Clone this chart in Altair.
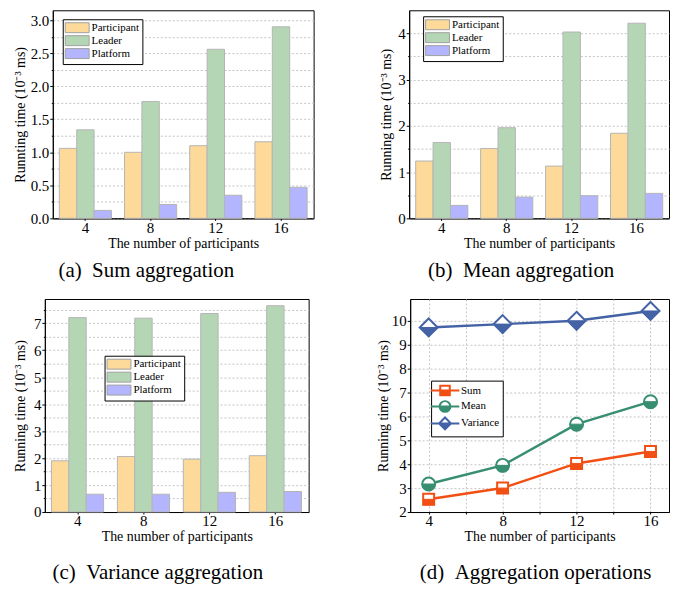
import altair as alt
import pandas as pd

# ---------------- data ----------------
groups = ["4", "8", "12", "16"]
roles = ["Participant", "Leader", "Platform"]
role_colors = ["#FDD99A", "#B5D6B5", "#B3B5FE"]

sum_participant = [1.06, 1.00, 1.10, 1.16]
sum_leader = [1.34, 1.77, 2.56, 2.90]
sum_platform = [0.12, 0.21, 0.35, 0.47]

mean_participant = [1.24, 1.51, 1.13, 1.84]
mean_leader = [1.64, 1.96, 4.03, 4.22]
mean_platform = [0.28, 0.46, 0.49, 0.54]

var_participant = [1.90, 2.06, 1.96, 2.09]
var_leader = [7.21, 7.19, 7.36, 7.65]
var_platform = [0.66, 0.66, 0.73, 0.76]

n_participants = [4, 8, 12, 16]
ops = ["Sum", "Mean", "Variance"]
op_colors = ["#F24F14", "#388E70", "#4462A6"]
op_sum = [2.53, 3.00, 4.03, 4.53]
op_mean = [3.17, 3.95, 5.67, 6.61]
op_variance = [9.71, 9.85, 9.99, 10.40]

FONT = "Liberation Serif"
XTITLE = "The number of participants"
GRID_DASH = [2, 2]
GRID_COLOR = "#c4c4c4"
CAP_SIZE = 21


def frange(start, stop, step):
    vals = []
    k = 0
    while start + k * step < stop - 1e-6:
        vals.append(round(start + k * step, 6))
        k += 1
    return vals


def is_major(major):
    return f"abs(datum.value/{major} - round(datum.value/{major})) < 1e-6"


def caption_title(text, dx, offset):
    return alt.TitleParams(text, orient="bottom", font=FONT, fontSize=CAP_SIZE,
                           fontWeight="normal", color="black", offset=offset,
                           anchor="middle", dx=dx)


def bar_panel(p, l, pl, ymax, minor, major, fmt, ytitle, lx, ly, caption,
              cap_dx, cap_off, width, height, extent):
    df = pd.DataFrame({
        "n": groups * 3,
        "role": [r for r in roles for _ in groups],
        "value": p + l + pl,
    })
    ticks = frange(0, ymax, minor)
    test = is_major(major)
    legend = alt.Legend(
        title=None, orient="none", legendX=lx, legendY=ly,
        symbolType="M-3,-1.25H3V1.25H-3Z", symbolSize=64,
        symbolStrokeColor="#a0a0a0", symbolStrokeWidth=1,
        symbolOffset=6, labelOffset=9, padding=3, rowPadding=-2,
        strokeColor="black", fillColor="white",
        labelFont=FONT, labelFontSize=11, labelColor="black",
    )
    return alt.Chart(df).mark_bar(stroke="#b4b4b4", strokeWidth=1).encode(
        x=alt.X("n:N", sort=groups,
                scale=alt.Scale(paddingInner=0.2, paddingOuter=0.1),
                axis=alt.Axis(title=XTITLE, labelAngle=0, grid=False,
                              tickSize=2, labelPadding=0, titlePadding=1)),
        xOffset=alt.XOffset("role:N", sort=roles,
                            scale=alt.Scale(paddingInner=0)),
        y=alt.Y("value:Q",
                scale=alt.Scale(domain=[0, ymax], nice=False, zero=True),
                axis=alt.Axis(
                    title=ytitle, values=ticks,
                    labelExpr=f"{test} ? format(datum.value, '{fmt}') : ''",
                    tickSize={"condition": {"test": test, "value": 3}, "value": 1.5},
                    grid=True, gridDash=GRID_DASH, gridColor=GRID_COLOR,
                    labelPadding=1, titlePadding=2,
                    minExtent=extent, maxExtent=extent)),
        color=alt.Color("role:N", sort=roles,
                        scale=alt.Scale(domain=roles, range=role_colors),
                        legend=legend),
    ).properties(width=width, height=height,
                 title=caption_title(caption, cap_dx, cap_off))


panel_a = bar_panel(sum_participant, sum_leader, sum_platform, 3.15, 0.25, 0.5,
                    ".1f", "Runnting time (10⁻³ ms)", 10, 9,
                    "(a)\u2002Sum aggregation", -37, 10, 262, 209, 23)
panel_b = bar_panel(mean_participant, mean_leader, mean_platform, 4.5, 0.5, 1,
                    "d", "Running time (10⁻³ ms)", 14, 6,
                    "(b)\u2002Mean aggregation", -18, 10, 261, 209, 14)
panel_c = bar_panel(var_participant, var_leader, var_platform, 7.9, 0.5, 1,
                    "d", "Running time (10⁻³ ms)", 60, 57,
                    "(c)\u2002Variance aggregation", -19, 18, 265, 214, 15)

# ---------------- panel d ----------------
ddf = pd.DataFrame({
    "n": n_participants * 3,
    "op": [o for o in ops for _ in n_participants],
    "value": op_sum + op_mean + op_variance,
})
base = alt.Chart(ddf)
xd = alt.X("n:Q", scale=alt.Scale(domain=[3, 17], nice=False, zero=False),
           axis=alt.Axis(title=XTITLE, values=[4, 6, 8, 10, 12, 14, 16],
                         labelExpr="datum.value % 4 == 0 ? datum.label : ''",
                         tickSize=2, grid=True, gridDash=GRID_DASH,
                         gridColor=GRID_COLOR, labelPadding=0, titlePadding=1))
yd = alt.Y("value:Q", scale=alt.Scale(domain=[2, 10.9], nice=False, zero=False),
           axis=alt.Axis(title="Running time (10⁻³ ms)", values=list(range(2, 11)),
                         tickSize=3, grid=True, gridDash=GRID_DASH,
                         gridColor=GRID_COLOR, labelPadding=1, titlePadding=2,
                         minExtent=18, maxExtent=18))

lines = base.mark_line(strokeWidth=2.5).encode(
    x=xd, y=yd,
    color=alt.Color("op:N", scale=alt.Scale(domain=ops, range=op_colors), legend=None),
)

full_shapes = ["M-1,-1H1V1H-1Z",
               "M-1,0A1,1 0 1 1 1,0A1,1 0 1 1 -1,0Z",
               "M0,-1L1,0L0,1L-1,0Z"]
half_shapes = ["M-1,0H1V1H-1Z",
               "M-1,0A1,1 0 0 0 1,0Z",
               "M-1,0L1,0L0,1Z"]
marker_sizes = [121, 169, 324]

point_layers = []
for op, col, fs, hs, sz in zip(ops, op_colors, full_shapes, half_shapes, marker_sizes):
    sub = base.transform_filter(alt.datum.op == op)
    point_layers.append(sub.mark_point(shape=fs, filled=True, fill="white", stroke=col,
                                       strokeWidth=2, size=sz, opacity=1).encode(x=xd, y=yd))
    point_layers.append(sub.mark_point(shape=hs, filled=True, fill=col, stroke=col,
                                       strokeWidth=1, size=sz, opacity=1).encode(x=xd, y=yd))

legend_paths = [
    "M-2.4,0H-0.8M0.8,0H2.4M-0.8,0V-0.8H0.8V0V-0.8H-0.8V0M-0.8,0H0.8V0.8H-0.8Z",
    "M-2.4,0H-0.9M0.9,0H2.4M-0.9,0A0.9,0.9 0 0 1 0.9,0A0.9,0.9 0 0 0 -0.9,0M-0.9,0A0.9,0.9 0 0 0 0.9,0Z",
    "M-2.4,0H-1M1,0H2.4M-1,0L0,-1L1,0L0,-1L-1,0M-1,0L1,0L0,1Z",
]
# this legend is lifted to the top-level group
leg_d = alt.Legend(
    title=None, orient="none", legendX=424, legendY=372,
    symbolSize=144, symbolStrokeWidth=2, symbolOffset=4, labelOffset=9,
    symbolOpacity=1, padding=3, rowPadding=-4, strokeColor="black", fillColor="white",
    labelFont=FONT, labelFontSize=11, labelColor="black",
)
legend_layer = base.mark_point(
    filled=True, opacity=0, strokeWidth=2, size=144
).encode(
    x=xd, y=yd,
    fill=alt.Fill("op:N", scale=alt.Scale(domain=ops, range=op_colors), legend=leg_d),
    stroke=alt.Stroke("op:N", scale=alt.Scale(domain=ops, range=op_colors), legend=leg_d),
    shape=alt.Shape("op:N", scale=alt.Scale(domain=ops, range=legend_paths), legend=leg_d),
)

panel_d = alt.layer(lines, *point_layers, legend_layer).properties(
    width=260, height=214,
    title=caption_title("(d)\u2002Aggregation operations", -4, 18),
)


def spacer():
    # tiny invisible view that anchors each row, so rows align by their left bounds
    return alt.Chart(pd.DataFrame({"s": [0]})).mark_point(opacity=0, size=0).encode(
        x=alt.value(0), y=alt.value(0)
    ).properties(width=1, height=1, view=alt.ViewBackground(stroke="transparent"))


inner1 = alt.hconcat(panel_a, panel_b, spacing=64).resolve_scale(
    color="independent").resolve_legend(color="independent")
inner2 = alt.hconcat(panel_c, panel_d, spacing=66).resolve_scale(
    color="independent").resolve_legend(color="independent")
row1 = alt.hconcat(spacer(), inner1, spacing=2).resolve_scale(
    color="independent").resolve_legend(color="independent")
row2 = alt.hconcat(spacer(), inner2, spacing=2).resolve_scale(
    color="independent").resolve_legend(color="independent")

chart = alt.vconcat(row1, row2, spacing=15).resolve_scale(
    color="independent").resolve_legend(color="independent").properties(
    padding={"left": 0, "top": 0, "right": 0, "bottom": 0}
).configure(
    font=FONT
).configure_view(
    stroke="black", strokeWidth=1
).configure_axis(
    labelFont=FONT, titleFont=FONT, labelFontSize=15, titleFontSize=14,
    titleFontWeight="normal", labelColor="black", titleColor="black",
    domainColor="black", tickColor="black", domainWidth=1, tickWidth=1,
).configure_legend(labelFont=FONT)

chart.save("out.html", embed_options={"renderer": "svg", "actions": False})
